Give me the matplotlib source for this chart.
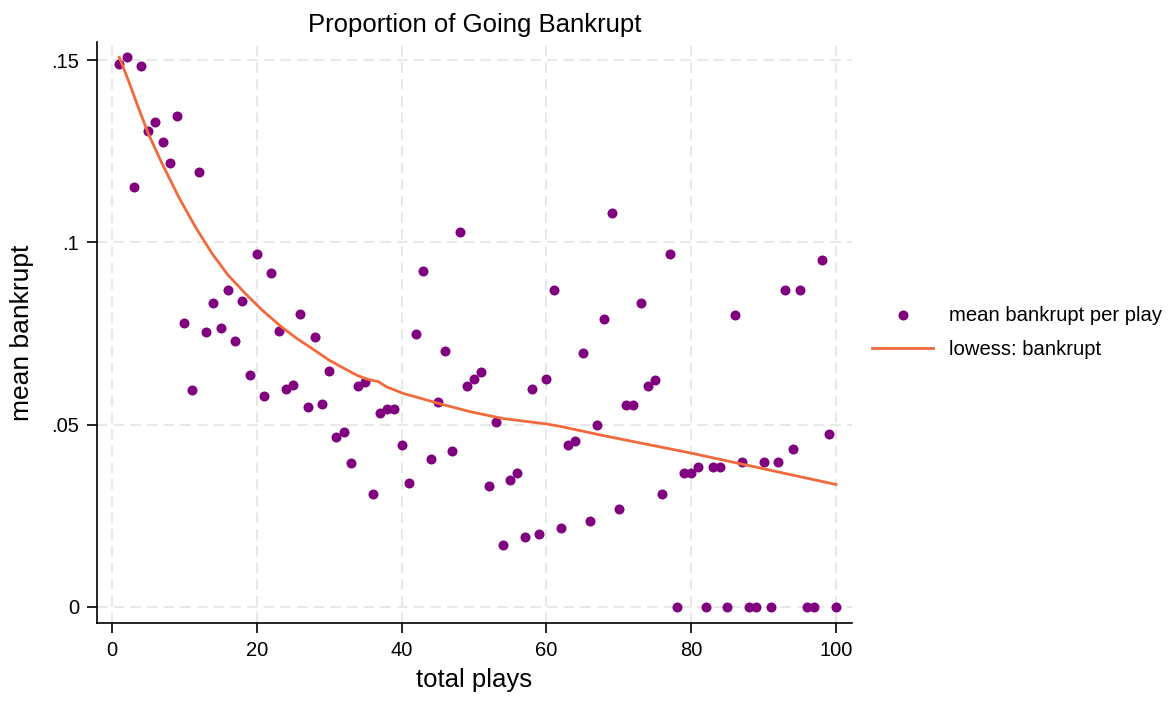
import matplotlib
matplotlib.use("Agg")
import matplotlib.pyplot as plt

plt.rcParams['font.family'] = ['Liberation Sans', 'DejaVu Sans']

# mean bankrupt per play, total plays 1..100
plays = list(range(1, 101))
mean_bankrupt = [
    0.1490, 0.1508, 0.1153, 0.1484, 0.1306, 0.1330, 0.1275, 0.1219, 0.1347, 0.0780,
    0.0595, 0.1193, 0.0753, 0.0834, 0.0764, 0.0869, 0.0730, 0.0840, 0.0636, 0.0968,
    0.0578, 0.0917, 0.0756, 0.0597, 0.0609, 0.0804, 0.0549, 0.0741, 0.0556, 0.0648,
    0.0466, 0.0480, 0.0395, 0.0606, 0.0616, 0.0311, 0.0531, 0.0543, 0.0543, 0.0443,
    0.0339, 0.0750, 0.0921, 0.0405, 0.0562, 0.0703, 0.0428, 0.1029, 0.0605, 0.0625,
    0.0645, 0.0333, 0.0508, 0.0171, 0.0349, 0.0368, 0.0191, 0.0599, 0.0199, 0.0625,
    0.0869, 0.0216, 0.0443, 0.0455, 0.0698, 0.0237, 0.0499, 0.0789, 0.1082, 0.0269,
    0.0554, 0.0554, 0.0833, 0.0605, 0.0623, 0.0311, 0.0968, 0.0, 0.0368, 0.0368,
    0.0384, 0.0, 0.0384, 0.0384, 0.0, 0.0800, 0.0399, 0.0, 0.0, 0.0399,
    0.0, 0.0399, 0.0869, 0.0434, 0.0869, 0.0, 0.0, 0.0953, 0.0475, 0.0,
]

# lowess curve
lowess_x = [1, 2.25, 3.6, 5, 6.9, 9.2, 11.5, 13.8, 16, 18.4, 20.7, 23.3, 25.5, 28,
            30, 32, 33.8, 35.2, 36.8, 37.9, 40.2, 45, 49.4, 54, 60, 62, 67.4, 80, 90, 100]
lowess_y = [0.1508, 0.1445, 0.1372, 0.1299, 0.1217, 0.1125, 0.1043, 0.0970, 0.0911,
            0.0860, 0.0815, 0.0770, 0.0737, 0.0704, 0.0677, 0.0655, 0.0636, 0.0625,
            0.0618, 0.0604, 0.0586, 0.0559, 0.0536, 0.0517, 0.0502, 0.0495, 0.0472,
            0.0422, 0.0379, 0.0336]

yticks = [0, 0.05, 0.1, 0.15]
ytick_labels = ['0', '.05', '.1', '.15']
xticks = [0, 20, 40, 60, 80, 100]

fig = plt.figure(figsize=(11.75, 7.04), dpi=100)
ax = fig.add_axes([0.0826, 0.1151, 0.6425, 0.8252])

ax.scatter(plays, mean_bankrupt, s=52, color='#800080', linewidths=0,
           label='mean bankrupt per play', zorder=3)
ax.plot(lowess_x, lowess_y, color='#f06a3c', lw=2.0, label='lowess: bankrupt', zorder=4)

ax.set_xlim(-2.07, 102.2)
ax.set_ylim(-0.0044, 0.155)
ax.set_xticks(xticks)
ax.set_yticks(yticks)
ax.set_yticklabels(ytick_labels)

ax.grid(True, color='#e8e8e8', linestyle=(0, (5, 3)), lw=1.5)
ax.set_axisbelow(True)
for side in ['top', 'right']:
    ax.spines[side].set_visible(False)
for side in ['left', 'bottom']:
    ax.spines[side].set_linewidth(1.2)
ax.tick_params(direction='out', length=7, width=1.2, labelsize=14.5, pad=6)

ax.set_xlabel('total plays', fontsize=18.5, labelpad=6)
ax.set_ylabel('mean bankrupt', fontsize=19, labelpad=12)
ax.set_title('Proportion of Going Bankrupt', fontsize=18.5, pad=7)

leg = fig.legend(loc='center left', bbox_to_anchor=(0.727, 0.528), frameon=False,
                 fontsize=14.6, handlelength=3.0, handletextpad=0.75, labelspacing=0.75)

fig.savefig('out.png', dpi=100)
